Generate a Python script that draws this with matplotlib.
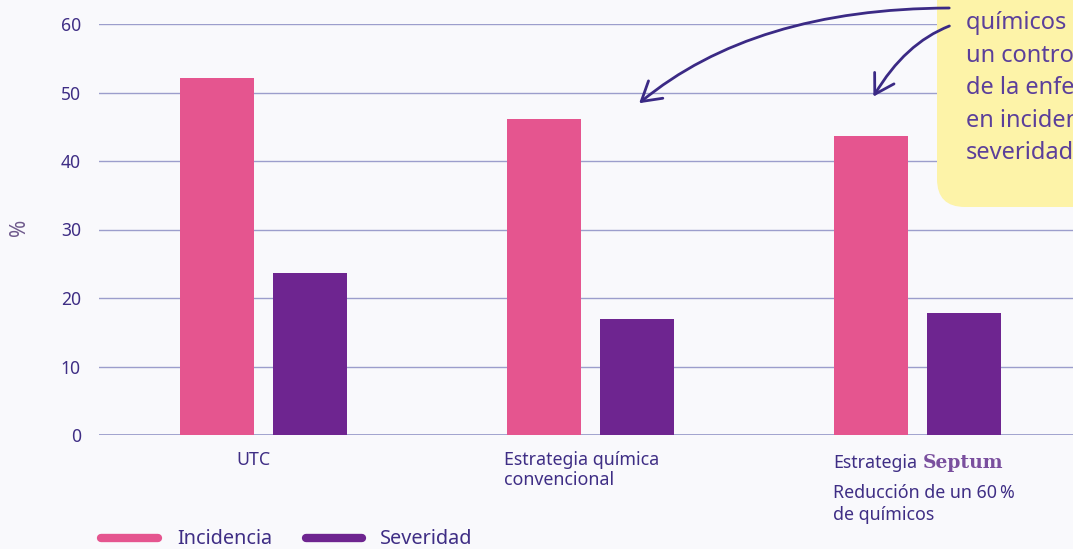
import matplotlib
matplotlib.use("Agg")
import matplotlib.pyplot as plt
from matplotlib.lines import Line2D
from matplotlib.patches import FancyBboxPatch, FancyArrowPatch
from matplotlib.transforms import IdentityTransform
import numpy as np

# --------------------------------------------------------------------------
# DATA
# --------------------------------------------------------------------------
categories = ["UTC", "Estrategia química\nconvencional", "Estrategia Septum"]
incidencia = [52.1, 46.1, 43.6]
severidad = [23.7, 16.9, 17.8]
y_ticks = [0, 10, 20, 30, 40, 50, 60]
series_names = ["Incidencia", "Severidad"]

# --------------------------------------------------------------------------
# STYLE
# --------------------------------------------------------------------------
BG = "#F9F9FC"
PINK = "#E5558F"
PURPLE = "#6E2590"
GRID = "#9C9ECC"
TEXT = "#3F2E85"
NOTE_TEXT = "#5B3F9A"
ARROW = "#3B2A85"
YELLOW = "#FDF3A8"

plt.rcParams["font.family"] = ["Noto Sans", "DejaVu Sans"]

W, H = 1073, 549
fig = plt.figure(figsize=(W / 100, H / 100), dpi=100, facecolor=BG)
ax = fig.add_axes([99 / W, 1 - 435 / H, 1 - 99 / W, (435 - 24) / H])
ax.set_facecolor(BG)

x = np.arange(len(categories))
offset = 0.142
width = 0.226
ax.bar(x - offset, incidencia, width, color=PINK, zorder=3)
ax.bar(x + offset, severidad, width, color=PURPLE, zorder=3)

ax.set_xlim(-0.503, 2.476)
ax.set_ylim(0, 60)
ax.set_yticks(y_ticks)
ax.tick_params(axis="y", length=0, pad=13, labelsize=12.6, labelcolor=TEXT)
ax.set_xticks([])
for s in ax.spines.values():
    s.set_visible(False)
ax.grid(axis="y", color=GRID, linewidth=1.0, zorder=1)
ax.axhline(0, color=GRID, linewidth=1.3, zorder=2)

fig.text(20 / W, 1 - 227 / H, "%", rotation=90, ha="center", va="center",
         fontsize=15, color="#6F5A8C")

# category labels (left aligned under each group)
label_y = 1 - 451 / H
fig.text(236 / W, label_y, categories[0], ha="left", va="top", fontsize=12.8, color=TEXT)
fig.text(504 / W, label_y, categories[1], ha="left", va="top", fontsize=12.8,
         color=TEXT, linespacing=1.15)
base_y = 1 - 468 / H
est = fig.text(833 / W, base_y, "Estrategia", ha="left", va="baseline", fontsize=12.8,
               color=TEXT)
fig.canvas.draw()
est_right = est.get_window_extent().x1
fig.text((est_right + 6) / W, base_y, "Septum", ha="left", va="baseline", fontsize=13.5,
         color="#7A4F9E", family="DejaVu Serif", fontweight="bold")
fig.text(833 / W, 1 - 484 / H, "Reducción de un 60\u2009%\nde químicos", ha="left",
         va="top", fontsize=12.8, color=TEXT, linespacing=1.3)

# legend
legend_colors = [PINK, PURPLE]
legend_x = [(101, 158, 177), (306, 362, 380)]
for name, col, (x0, x1, tx) in zip(series_names, legend_colors, legend_x):
    fig.add_artist(Line2D([x0 / W, x1 / W], [1 - 538 / H, 1 - 538 / H],
                          transform=fig.transFigure, color=col, linewidth=6,
                          solid_capstyle="round"))
    fig.text(tx / W, 1 - 539 / H, name, ha="left", va="center", fontsize=14.3, color=TEXT)

# yellow note box, cut off at the figure edge
box = FancyBboxPatch((937, H - 207), 320, 320, boxstyle="round,pad=0,rounding_size=28",
                     transform=IdentityTransform(), facecolor=YELLOW, edgecolor="none",
                     zorder=5)
fig.add_artist(box)
fig.text(966 / W, 1 - 159 / H,
         "Reducción de un 60\u2009% de\nquímicos con\nun control similar\n"
         "de la enfermedad\nen incidencia y\nseveridad",
         ha="left", va="baseline", fontsize=17, color=NOTE_TEXT, linespacing=1.47,
         zorder=6)

# arrows from the note to the bars
arrow_style = "->,head_length=0.75,head_width=0.45"
a1 = FancyArrowPatch((952, H - 8), (637, H - 105), transform=IdentityTransform(),
                     connectionstyle="angle3,angleA=180,angleB=40",
                     arrowstyle=arrow_style, mutation_scale=18, color=ARROW,
                     linewidth=2, zorder=7)
a2 = FancyArrowPatch((952, H - 25), (872, H - 99), transform=IdentityTransform(),
                     connectionstyle="angle3,angleA=200,angleB=60",
                     arrowstyle=arrow_style, mutation_scale=18, color=ARROW,
                     linewidth=2, zorder=7)
fig.add_artist(a1)
fig.add_artist(a2)

fig.savefig("out.png", dpi=100, facecolor=BG)
